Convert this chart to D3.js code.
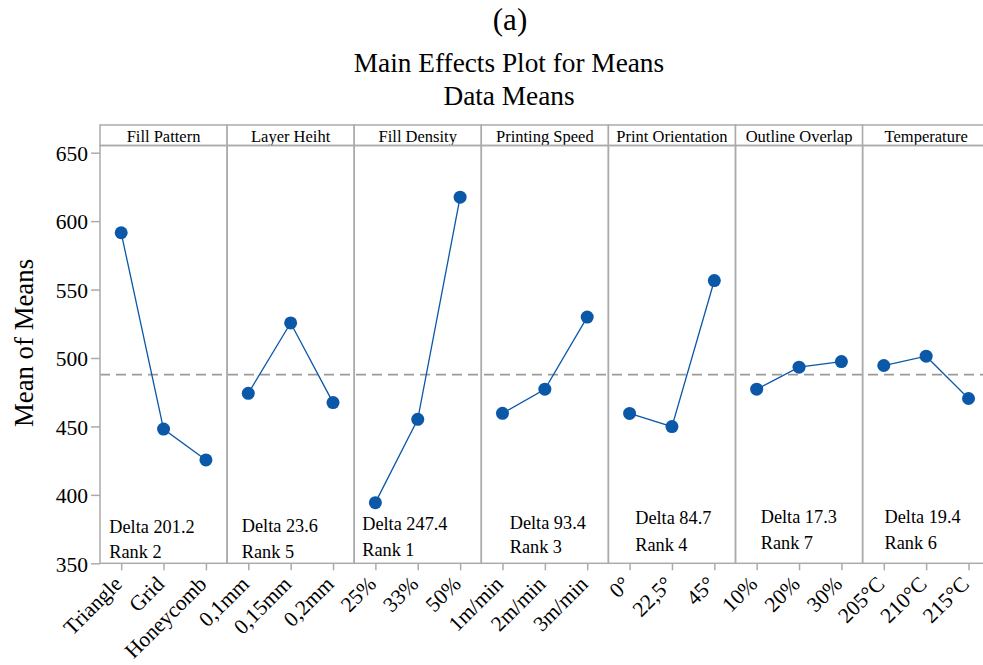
<!DOCTYPE html>
<html>
<head>
<meta charset="utf-8">
<script src="https://cdn.jsdelivr.net/npm/d3@7"></script>
<style>
  html, body { margin: 0; padding: 0; background: #fff; }
  svg { display: block; }
  svg text { font-family: "Liberation Serif", "Times New Roman", Times, serif; fill: #000; }
</style>
</head>
<body>
<svg id="chart" width="983" height="665"></svg>
<script>
// ---- data ----
const factors = ["Fill Pattern", "Layer Heiht", "Fill Density", "Printing Speed", "Print Orientation", "Outline Overlap", "Temperature"];
const levels = [
  ["Triangle", "Grid", "Honeycomb"],
  ["0,1mm", "0,15mm", "0,2mm"],
  ["25%", "33%", "50%"],
  ["1m/min", "2m/min", "3m/min"],
  ["0°", "22,5°", "45°"],
  ["10%", "20%", "30%"],
  ["205°C", "210°C", "215°C"]
];
const means = [
  [591.5, 448.1, 425.5],
  [474.2, 525.6, 467.4],
  [394.3, 455.2, 617.5],
  [459.6, 477.2, 529.9],
  [459.5, 449.9, 556.6],
  [477.2, 493.3, 497.4],
  [494.5, 501.3, 470.4]
];
const deltas = ["201.2", "23.6", "247.4", "93.4", "84.7", "17.3", "19.4"];
const ranks = [2, 5, 1, 3, 4, 7, 6];
const grandMean = 487.8;
const yTicks = [350, 400, 450, 500, 550, 600, 650];

// ---- layout (not data) ----
const plotLeft = 100, panelW = 127.1, stripTop = 125, plotTop = 145.5, plotBottom = 563.3;
const noteDx = [9.3, 14.7, 8.0, 28.4, 26.8, 25.2, 21.9];
const noteY1 = [533, 531.5, 530, 528.5, 524, 522.5, 522.5];
const noteY2 = [558, 558, 555.5, 552.5, 550.5, 548.5, 548.5];

const gray = "#ababab";
const blue = "#0b57a8";
const serif = '"Liberation Serif", "Times New Roman", Times, serif';

const svg = d3.select("#chart");

const y = d3.scaleLinear().domain([350, 650]).range([plotBottom, 152.7]);
const plotRight = plotLeft + panelW * factors.length;

// titles
svg.append("text").attr("x", 510).attr("y", 29.5).attr("text-anchor", "middle")
  .attr("font-family", serif).attr("font-size", 31).text("(a)");
svg.append("text").attr("x", 509).attr("y", 72).attr("text-anchor", "middle")
  .attr("font-family", serif).attr("font-size", 27.3).text("Main Effects Plot for Means");
svg.append("text").attr("x", 509).attr("y", 105).attr("text-anchor", "middle")
  .attr("font-family", serif).attr("font-size", 27.3).text("Data Means");

// y label
svg.append("text").attr("transform", `translate(33,343) rotate(-90)`)
  .attr("text-anchor", "middle").attr("font-family", serif).attr("font-size", 26.8).text("Mean of Means");

// y axis
const yAxis = svg.append("g").attr("transform", `translate(${plotLeft},0)`)
  .call(d3.axisLeft(y).tickValues(yTicks).tickSize(9).tickPadding(3).tickFormat(d3.format("d")));
yAxis.attr("font-family", serif);
yAxis.select(".domain").remove();
yAxis.selectAll(".tick line").attr("stroke", gray).attr("stroke-width", 1.5);
yAxis.selectAll(".tick text").attr("font-size", 21.5).attr("font-family", serif).attr("fill", "#000").attr("dy", "0.36em");

// reference line (grand mean)
svg.append("line")
  .attr("x1", plotLeft).attr("x2", plotRight)
  .attr("y1", y(grandMean)).attr("y2", y(grandMean))
  .attr("stroke", "#9a9a9a").attr("stroke-width", 1.8).attr("stroke-dasharray", "10,6");

factors.forEach((f, i) => {
  const x0 = plotLeft + i * panelW;
  const x = d3.scalePoint().domain(levels[i]).range([x0, x0 + panelW]).padding(0.5);
  const g = svg.append("g").attr("font-family", serif);

  // strip
  g.append("rect").attr("x", x0).attr("y", stripTop).attr("width", panelW).attr("height", plotTop - stripTop)
    .attr("fill", "#fff").attr("stroke", gray).attr("stroke-width", 1.5);
  g.append("text").attr("x", x0 + panelW / 2).attr("y", 141.5).attr("text-anchor", "middle")
    .attr("font-size", 16.5).text(f);

  // panel frame
  g.append("rect").attr("x", x0).attr("y", plotTop).attr("width", panelW).attr("height", plotBottom - plotTop)
    .attr("fill", "none").attr("stroke", gray).attr("stroke-width", 1.5);

  // x axis ticks
  const xa = g.append("g").attr("transform", `translate(0,${plotBottom})`)
    .call(d3.axisBottom(x).tickSize(7).tickFormat(""));
  xa.select(".domain").remove();
  xa.selectAll(".tick line").attr("stroke", gray).attr("stroke-width", 1.5);

  // x tick labels rotated
  g.selectAll("text.xl").data(levels[i]).enter().append("text")
    .attr("class", "xl")
    .attr("transform", d => `translate(${x(d) + 2},${plotBottom + 22}) rotate(-45)`)
    .attr("text-anchor", "end").attr("font-size", 21.5).text(d => d);

  // line + points
  const pts = levels[i].map((lv, j) => [x(lv), y(means[i][j])]);
  g.append("path").attr("d", d3.line()(pts)).attr("fill", "none")
    .attr("stroke", blue).attr("stroke-width", 1.3);
  g.selectAll("circle").data(pts).enter().append("circle")
    .attr("cx", d => d[0]).attr("cy", d => d[1]).attr("r", 6.5).attr("fill", blue);

  // delta / rank
  g.append("text").attr("x", x0 + noteDx[i]).attr("y", noteY1[i]).attr("font-size", 18.3)
    .text("Delta " + deltas[i]);
  g.append("text").attr("x", x0 + noteDx[i]).attr("y", noteY2[i]).attr("font-size", 18.3)
    .text("Rank " + ranks[i]);
});
</script>
</body>
</html>
